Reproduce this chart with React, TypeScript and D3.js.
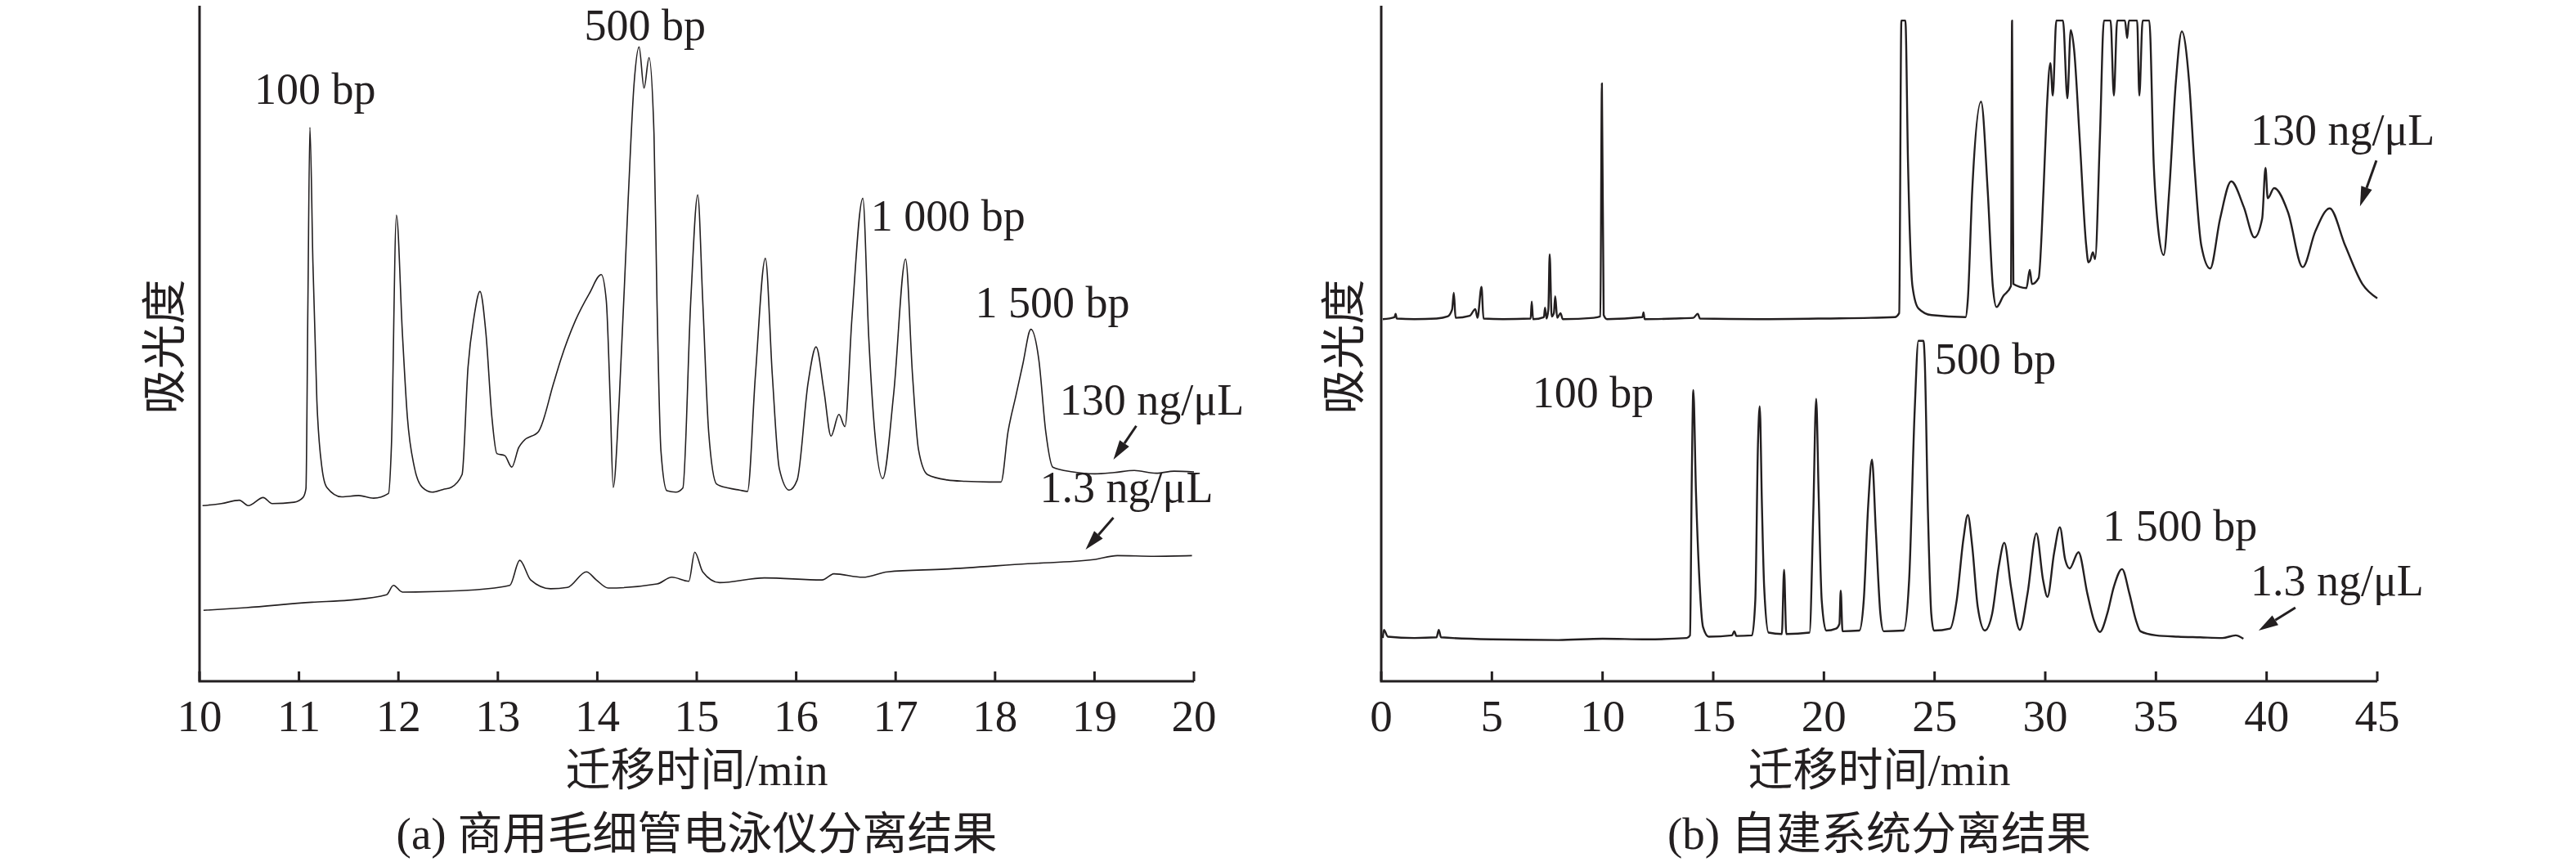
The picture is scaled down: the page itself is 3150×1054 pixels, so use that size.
// Capillary electrophoresis traces: commercial instrument vs self-built system
import * as d3 from 'd3'

type Pt = [number, number]

// time (min), absorbance (arbitrary units, 0-100 of the frame height)
const A_130: Pt[] = [
  [10.03, 26.0], [10.22, 26.3], [10.4, 26.8], [10.49, 26.0], [10.64, 27.2], [10.73, 26.3], [10.95, 26.5],
  [11.04, 27.2], [11.07, 28.5], [11.09, 56.4], [11.11, 82.0], [11.14, 62.0], [11.18, 41.5], [11.23, 31.7],
  [11.28, 28.7], [11.43, 27.3], [11.6, 27.5], [11.75, 27.1], [11.9, 27.8], [11.93, 35.0], [11.98, 69.0],
  [12.04, 51.5], [12.09, 39.1], [12.16, 31.7], [12.24, 28.7], [12.34, 28.0], [12.45, 28.4], [12.53, 28.7],
  [12.64, 30.6], [12.7, 46.5], [12.76, 53.9], [12.82, 57.7], [12.88, 51.5], [12.94, 39.1], [12.99, 33.7],
  [13.07, 33.4], [13.14, 31.7], [13.21, 34.6], [13.26, 35.6], [13.41, 37.0], [13.56, 44.1], [13.63, 47.5],
  [13.78, 53.4], [13.92, 57.4], [14.04, 60.2], [14.09, 56.4], [14.13, 41.5], [14.16, 28.7], [14.22, 41.5],
  [14.31, 71.2], [14.37, 88.5], [14.42, 93.9], [14.47, 87.8], [14.52, 92.3], [14.57, 81.1], [14.6, 56.4],
  [14.64, 34.1], [14.7, 28.2], [14.79, 28.0], [14.86, 28.6], [14.94, 56.4], [15.01, 72.0], [15.06, 56.4],
  [15.12, 36.9], [15.2, 29.2], [15.32, 28.6], [15.43, 28.3], [15.51, 28.1], [15.59, 45.3], [15.69, 62.6],
  [15.76, 45.3], [15.83, 31.5], [15.93, 28.3], [16.01, 29.8], [16.12, 44.2], [16.2, 49.5], [16.28, 42.9],
  [16.35, 36.3], [16.43, 39.5], [16.49, 37.7], [16.56, 53.6], [16.67, 71.5], [16.73, 50.8], [16.79, 36.9],
  [16.87, 30.0], [16.98, 42.5], [17.1, 62.5], [17.17, 45.3], [17.23, 34.3], [17.32, 30.6], [17.52, 29.8],
  [17.7, 29.6], [17.94, 29.5], [18.06, 29.5], [18.13, 36.9], [18.21, 42.3], [18.28, 47.0], [18.36, 52.1],
  [18.44, 47.6], [18.51, 36.9], [18.58, 31.7], [18.78, 31.0], [19.0, 30.7], [19.2, 30.9], [19.4, 31.2],
  [19.62, 30.8], [19.8, 31.1], [20.0, 31.0],
]

const A_13: Pt[] = [
  [10.04, 10.5], [10.47, 10.9], [11.13, 11.7], [11.5, 12.0], [11.88, 12.8], [11.95, 14.2], [12.04, 13.2],
  [12.62, 13.4], [13.12, 14.2], [13.22, 17.9], [13.33, 15.0], [13.53, 13.7], [13.7, 13.9], [13.89, 16.2],
  [13.99, 15.0], [14.11, 13.8], [14.6, 14.4], [14.75, 15.4], [14.92, 14.8], [14.98, 19.1], [15.06, 16.2],
  [15.23, 14.6], [15.68, 15.3], [16.26, 15.0], [16.38, 15.9], [16.67, 15.4], [16.92, 16.2], [17.5, 16.6],
  [18.33, 17.4], [18.99, 18.0], [19.23, 18.6], [19.6, 18.5], [19.98, 18.6],
]

const B_130: Pt[] = [
  [0.07, 53.6], [0.6, 53.9], [0.65, 54.4], [0.7, 53.7], [1.5, 53.6], [2.5, 53.7], [3.0, 54.0], [3.2, 55.0],
  [3.28, 57.5], [3.36, 53.8], [4.0, 54.1], [4.25, 55.1], [4.35, 53.8], [4.53, 58.4], [4.62, 53.7], [5.5, 53.6],
  [6.75, 53.7], [6.8, 56.2], [6.86, 53.6], [7.35, 53.9], [7.4, 55.3], [7.47, 53.7], [7.55, 55.0], [7.61, 63.2],
  [7.7, 54.0], [7.8, 54.5], [7.86, 57.0], [7.95, 53.8], [8.1, 54.5], [8.2, 53.6], [9.6, 53.8], [9.9, 54.0],
  [9.97, 88.5], [10.05, 54.2], [10.2, 53.6], [11.8, 53.9], [11.85, 54.6], [11.9, 53.6], [13.3, 53.7],
  [14.1, 53.8], [14.3, 54.4], [14.4, 53.7], [17.0, 53.6], [20.0, 53.7], [23.2, 53.9], [23.4, 54.5],
  [23.5, 97.8], [23.68, 97.8], [23.8, 76.6], [24.0, 58.5], [24.27, 55.2], [24.86, 54.2], [26.4, 53.9],
  [26.5, 56.4], [26.7, 72.6], [27.1, 85.8], [27.4, 72.6], [27.63, 58.5], [27.8, 55.4], [28.1, 57.0],
  [28.45, 58.5], [28.5, 97.8], [28.56, 58.8], [29.15, 58.2], [29.3, 60.9], [29.4, 58.8], [29.7, 59.7],
  [29.92, 72.6], [30.07, 84.7], [30.23, 91.5], [30.34, 86.7], [30.5, 97.8], [30.8, 97.8], [31.0, 86.3],
  [31.15, 96.4], [31.3, 93.6], [31.55, 80.6], [31.85, 64.5], [31.95, 62.0], [32.03, 62.3], [32.15, 63.5],
  [32.25, 62.5], [32.47, 80.6], [32.65, 97.8], [32.95, 97.8], [33.1, 86.7], [33.25, 97.8], [33.6, 97.8],
  [33.7, 95.2], [33.78, 97.8], [34.15, 97.8], [34.25, 86.7], [34.4, 97.8], [34.7, 97.8], [34.9, 76.6],
  [35.1, 67.0], [35.35, 63.1], [35.6, 72.6], [35.9, 88.7], [36.17, 96.2], [36.5, 88.7], [36.75, 75.8],
  [37.05, 64.5], [37.45, 61.1], [37.9, 68.5], [38.4, 74.0], [38.97, 70.2], [39.45, 65.7], [39.8, 68.5],
  [39.95, 76.0], [40.05, 71.5], [40.34, 73.0], [40.97, 69.4], [41.63, 61.3], [42.2, 66.6], [42.85, 70.0],
  [43.55, 64.5], [44.33, 58.8], [45.0, 56.7],
]

const B_13: Pt[] = [
  [0.07, 6.4], [0.12, 7.6], [0.3, 6.6], [1.5, 6.4], [2.5, 6.5], [2.6, 7.6], [2.7, 6.5], [5.0, 6.2], [8.0, 6.1],
  [10.0, 6.3], [12.0, 6.2], [13.8, 6.4], [13.95, 6.8], [14.03, 30.0], [14.1, 43.1], [14.22, 28.0],
  [14.36, 16.0], [14.54, 8.0], [14.8, 6.6], [15.85, 6.8], [15.95, 7.4], [16.05, 6.7], [16.75, 6.8],
  [16.9, 12.0], [17.02, 35.0], [17.1, 40.7], [17.2, 26.0], [17.3, 14.0], [17.5, 7.2], [18.1, 7.0],
  [18.2, 16.5], [18.3, 7.0], [19.35, 7.2], [19.52, 25.0], [19.65, 41.8], [19.76, 28.0], [19.9, 12.0],
  [20.1, 7.5], [20.55, 7.8], [20.7, 8.5], [20.76, 13.4], [20.84, 7.4], [21.6, 7.5], [21.8, 12.0],
  [22.0, 26.0], [22.17, 32.8], [22.35, 22.0], [22.55, 10.0], [22.7, 7.4], [23.6, 7.5], [23.85, 15.0],
  [24.1, 40.0], [24.27, 50.4], [24.5, 50.4], [24.55, 48.0], [24.7, 25.0], [24.85, 10.0], [24.97, 7.5],
  [25.7, 7.8], [26.0, 12.0], [26.3, 21.0], [26.5, 24.6], [26.7, 20.0], [26.95, 11.0], [27.27, 7.5],
  [27.6, 10.0], [27.9, 17.0], [28.15, 20.5], [28.45, 14.0], [28.85, 7.6], [29.2, 13.0], [29.6, 21.9],
  [29.9, 15.0], [30.1, 12.5], [30.4, 19.0], [30.66, 22.8], [30.9, 18.0], [31.1, 16.7], [31.5, 19.1],
  [31.9, 13.0], [32.2, 9.0], [32.47, 7.3], [32.8, 10.0], [33.1, 14.0], [33.47, 16.6], [33.8, 13.0],
  [34.1, 9.0], [34.3, 7.4], [35.0, 6.8], [36.0, 6.6], [37.0, 6.5], [38.0, 6.4], [38.6, 6.8], [38.95, 6.3],
]

const A_TICKS = [10, 11, 12, 13, 14, 15, 16, 17, 18, 19, 20]
const B_TICKS = [0, 5, 10, 15, 20, 25, 30, 35, 40, 45]

// label text anchored (start, baseline) at [time, absorbance]
const A_LABELS: [string, number, number][] = [
  ['100 bp', 10.55, 85.5],
  ['500 bp', 13.87, 94.9],
  ['1 000 bp', 16.75, 66.7],
  ['1 500 bp', 17.8, 53.9],
  ['130 ng/μL', 18.65, 39.5],
  ['1.3 ng/μL', 18.45, 26.5],
]
const B_LABELS: [string, number, number][] = [
  ['130 ng/μL', 39.27, 79.4],
  ['500 bp', 25.0, 45.5],
  ['100 bp', 6.83, 40.6],
  ['1 500 bp', 32.6, 20.8],
  ['1.3 ng/μL', 39.27, 12.7],
]

// arrows: [tailT, tailV, headT, headV]
const A_ARROWS: [number, number, number, number][] = [
  [19.42, 37.8, 19.19, 32.8],
  [19.19, 24.2, 18.91, 19.5],
]
const B_ARROWS: [number, number, number, number][] = [
  [44.96, 77.1, 44.22, 70.3],
  [41.3, 10.9, 39.64, 7.5],
]

const INK = '#231f20'
const SERIF = "'Liberation Serif', 'Times New Roman', 'Noto Sans CJK SC', serif"
const TOP = 7
const BOTTOM = 833

interface PanelProps {
  left: number
  right: number
  domain: [number, number]
  ticks: number[]
  traces: Pt[][]
  strokeWidth: number
  labels: [string, number, number][]
  arrows: [number, number, number, number][]
  yLabelX: number
  title: string
}

function Panel({ left, right, domain, ticks, traces, strokeWidth, labels, arrows, yLabelX, title }: PanelProps) {
  const x = d3.scaleLinear().domain(domain).range([left, right])
  const y = d3.scaleLinear().domain([0, 100]).range([BOTTOM, TOP])
  const line = d3.line<Pt>()
    .x(d => x(d[0]))
    .y(d => y(d[1]))
    .curve(d3.curveMonotoneX)
  const mid = (left + right) / 2

  return (
    <g>
      {traces.map((t, i) => (
        <path key={i} d={line(t) ?? ''} fill="none" stroke={INK} strokeWidth={strokeWidth} strokeLinejoin="round" />
      ))}

      {/* axes */}
      <path d={`M${left},${TOP}V${BOTTOM}H${right}`} fill="none" stroke={INK} strokeWidth={3} />
      {ticks.map(t => (
        <g key={t}>
          <line x1={x(t)} x2={x(t)} y1={BOTTOM} y2={BOTTOM - 12} stroke={INK} strokeWidth={3} />
          <text x={x(t)} y={894} textAnchor="middle" fontSize={55} fill={INK}>{t}</text>
        </g>
      ))}

      {labels.map(([s, t, v]) => (
        <text key={s} x={x(t)} y={y(v)} fontSize={54} fill={INK}>{s}</text>
      ))}

      {arrows.map(([t0, v0, t1, v1], i) => {
        const x0 = x(t0), y0 = y(v0), x1 = x(t1), y1 = y(v1)
        const a = Math.atan2(y1 - y0, x1 - x0)
        const len = 24, half = 7
        const bx = x1 - len * Math.cos(a), by = y1 - len * Math.sin(a)
        const px = -Math.sin(a) * half, py = Math.cos(a) * half
        return (
          <g key={i}>
            <line x1={x0} y1={y0} x2={bx} y2={by} stroke={INK} strokeWidth={3} />
            <polygon points={`${x1},${y1} ${bx + px},${by + py} ${bx - px},${by - py}`} fill={INK} />
          </g>
        )
      })}

      <text
        transform={`translate(${yLabelX},424) rotate(-90)`}
        textAnchor="middle"
        dominantBaseline="central"
        fontSize={55}
        fill={INK}
      >吸光度</text>
      <text x={mid} y={960} textAnchor="middle" fontSize={55} fill={INK}>迁移时间/min</text>
      <text x={mid} y={1038} textAnchor="middle" fontSize={55} fill={INK}>{title}</text>
    </g>
  )
}

export default function App() {
  return (
    <div style={{ position: 'absolute', left: 0, top: 0 }}>
      <svg width={3150} height={1054} style={{ display: 'block', background: '#fff' }} fontFamily={SERIF}>
        <rect width={3150} height={1054} fill="#fff" />
        <Panel
          left={244}
          right={1460}
          domain={[10, 20]}
          ticks={A_TICKS}
          traces={[A_130, A_13]}
          strokeWidth={1.6}
          labels={A_LABELS}
          arrows={A_ARROWS}
          yLabelX={201}
          title="(a) 商用毛细管电泳仪分离结果"
        />
        <Panel
          left={1689}
          right={2907}
          domain={[0, 45]}
          ticks={B_TICKS}
          traces={[B_130, B_13]}
          strokeWidth={2.4}
          labels={B_LABELS}
          arrows={B_ARROWS}
          yLabelX={1643}
          title="(b) 自建系统分离结果"
        />
      </svg>
    </div>
  )
}
